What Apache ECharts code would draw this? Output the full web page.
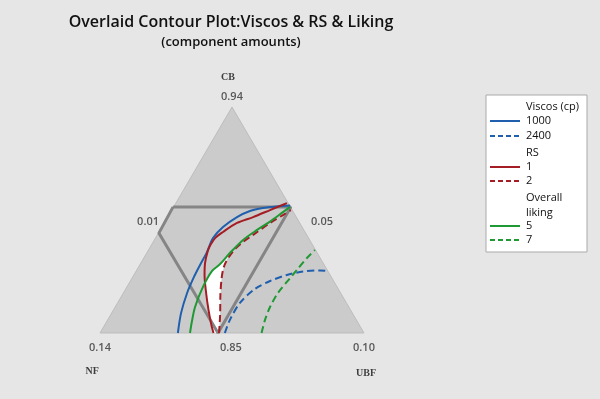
<!DOCTYPE html>
<html>
<head>
<meta charset="utf-8">
<script src="https://cdn.jsdelivr.net/npm/echarts@6.0.0/dist/echarts.min.js"></script>
<style>
  html, body { margin: 0; padding: 0; background: #e6e6e6; }
  #chart { width: 600px; height: 399px; }
</style>
</head>
<body>
<div id="chart"></div>
<script>
// plot coordinates: x along the base (0 = NF corner, 1 = UBF corner), y = height (1 = CB apex)
var triangle = [[0, 0], [0.5, 1], [1, 0]];
var region = [[0.277, 0.558], [0.723, 0.558], [0.447, 0], [0.223, 0.442], [0.277, 0.558]];

var viscos1000 = [[0.295, 0], [0.307, 0.088], [0.330, 0.177], [0.356, 0.248], [0.379, 0.301], [0.405, 0.358],
  [0.428, 0.420], [0.466, 0.469], [0.519, 0.513], [0.568, 0.540], [0.617, 0.553], [0.670, 0.560], [0.720, 0.564]];
var viscos2400 = [[0.473, 0], [0.492, 0.058], [0.530, 0.133], [0.587, 0.195], [0.644, 0.230], [0.708, 0.257],
  [0.769, 0.272], [0.833, 0.277], [0.862, 0.274]];
var rs1 = [[0.430, 0], [0.422, 0.035], [0.411, 0.102], [0.402, 0.177], [0.396, 0.257], [0.398, 0.310],
  [0.407, 0.358], [0.418, 0.389], [0.436, 0.420], [0.466, 0.447], [0.519, 0.487], [0.580, 0.513],
  [0.644, 0.544], [0.708, 0.575]];
var rs2 = [[0.451, 0], [0.455, 0.080], [0.456, 0.168], [0.460, 0.235], [0.466, 0.279], [0.477, 0.314],
  [0.508, 0.367], [0.542, 0.403], [0.580, 0.434], [0.644, 0.487], [0.693, 0.522], [0.723, 0.544]];
var liking5 = [[0.341, 0], [0.347, 0.044], [0.360, 0.115], [0.390, 0.204], [0.424, 0.274], [0.455, 0.305],
  [0.492, 0.354], [0.542, 0.412], [0.595, 0.456], [0.644, 0.493], [0.693, 0.535], [0.720, 0.558]];
var liking7 = [[0.612, 0], [0.625, 0.058], [0.644, 0.115], [0.674, 0.177], [0.720, 0.243], [0.746, 0.279],
  [0.784, 0.332], [0.814, 0.367]];
// feasible (white) area
var feasible = [[0.398, 0.235], [0.424, 0.274], [0.455, 0.305], [0.489, 0.345], [0.477, 0.314], [0.466, 0.279],
  [0.460, 0.235], [0.456, 0.168], [0.455, 0.080], [0.451, 0], [0.430, 0], [0.422, 0.035], [0.411, 0.102],
  [0.402, 0.177]];

var tickLabels = ['0.94', '0.01', '0.05', '0.14', '0.85', '0.10'];
var tickPos = [[0.5, 1.044], [0.182, 0.491], [0.841, 0.491], [0, -0.066], [0.496, -0.066], [1.0, -0.066]];
var cornerNames = ['CB', 'NF', 'UBF'];
var cornerPos = [[0.485, 1.133], [-0.03, -0.168], [1.008, -0.177]];

var BLUE = '#1f5fae', RED = '#a51d24', GREEN = '#1f9933';

function polygon(points, style, z) {
  return {
    type: 'custom', coordinateSystem: 'cartesian2d', silent: true, z: z,
    data: [[0.5, 0.5]],
    renderItem: function (params, api) {
      return { type: 'polygon', shape: { points: points.map(function (p) { return api.coord(p); }) }, style: style };
    }
  };
}

function curve(name, data, color, dashed) {
  return {
    name: name, type: 'line', data: data, showSymbol: false, smooth: 0.3, z: 4,
    lineStyle: { color: color, width: 2, type: dashed ? [7, 4] : 'solid' }
  };
}

function labels(names, pos, font) {
  return {
    type: 'scatter', symbolSize: 0, silent: true, z: 5,
    data: pos.map(function (p, i) { return { value: p, name: names[i] }; }),
    label: Object.assign({ show: true, position: 'inside', formatter: '{b}' }, font)
  };
}

var chart = echarts.init(document.getElementById('chart'));

var legendRows = [
  { text: 'Viscos (cp)', y: 107 },
  { text: '1000', y: 121, color: BLUE },
  { text: '2400', y: 136, color: BLUE, dashed: true },
  { text: 'RS', y: 153 },
  { text: '1', y: 167, color: RED },
  { text: '2', y: 181, color: RED, dashed: true },
  { text: 'Overall', y: 198 },
  { text: 'liking', y: 213 },
  { text: '5', y: 226, color: GREEN },
  { text: '7', y: 240, color: GREEN, dashed: true }
];
var graphics = [
  { type: 'text', x: 231, y: 22, style: { text: 'Overlaid Contour Plot:Viscos & RS & Liking', align: 'center', verticalAlign: 'middle',
    font: '600 16px "Open Sans"', fill: '#111' } },
  { type: 'text', x: 231, y: 42, style: { text: '(component amounts)', align: 'center', verticalAlign: 'middle',
    font: '600 13px "Open Sans"', fill: '#111' } },
  { type: 'rect', shape: { x: 486, y: 95, width: 101, height: 157 }, style: { fill: '#fff', stroke: '#aaa', lineWidth: 1 } }
];
legendRows.forEach(function (r) {
  graphics.push({ type: 'text', x: 526, y: r.y, style: { text: r.text, verticalAlign: 'middle',
    font: '11px "Open Sans"', fill: '#111' } });
  if (r.color) {
    graphics.push({ type: 'line', shape: { x1: 490, y1: r.y, x2: 520, y2: r.y },
      style: { stroke: r.color, lineWidth: 2, lineDash: r.dashed ? [5, 3] : null } });
  }
});

chart.setOption({
  backgroundColor: '#e6e6e6',
  animation: false,
  grid: { left: 47.2, top: 61.8, width: 369.6, height: 316.4 },
  xAxis: { type: 'value', min: -0.2, max: 1.2, show: false },
  yAxis: { type: 'value', min: -0.2, max: 1.2, show: false },
  graphic: graphics,
  series: [
    polygon(triangle, { fill: '#cbcbcb', stroke: '#bdbdbd', lineWidth: 1 }, 1),
    polygon(feasible, { fill: '#ffffff' }, 2),
    {
      type: 'line', data: region, showSymbol: false, z: 3, silent: true,
      lineStyle: { color: '#858585', width: 3 }
    },
    curve('1000', viscos1000, BLUE, false),
    curve('2400', viscos2400, BLUE, true),
    curve('1', rs1, RED, false),
    curve('2', rs2, RED, true),
    curve('5', liking5, GREEN, false),
    curve('7', liking7, GREEN, true),
    labels(tickLabels, tickPos, { fontSize: 11, fontFamily: 'Open Sans', fontWeight: 600, color: '#333' }),
    labels(cornerNames, cornerPos, { fontSize: 10, fontFamily: 'Liberation Serif', fontWeight: 'bold', color: '#111' })
  ]
});
</script>
</body>
</html>
